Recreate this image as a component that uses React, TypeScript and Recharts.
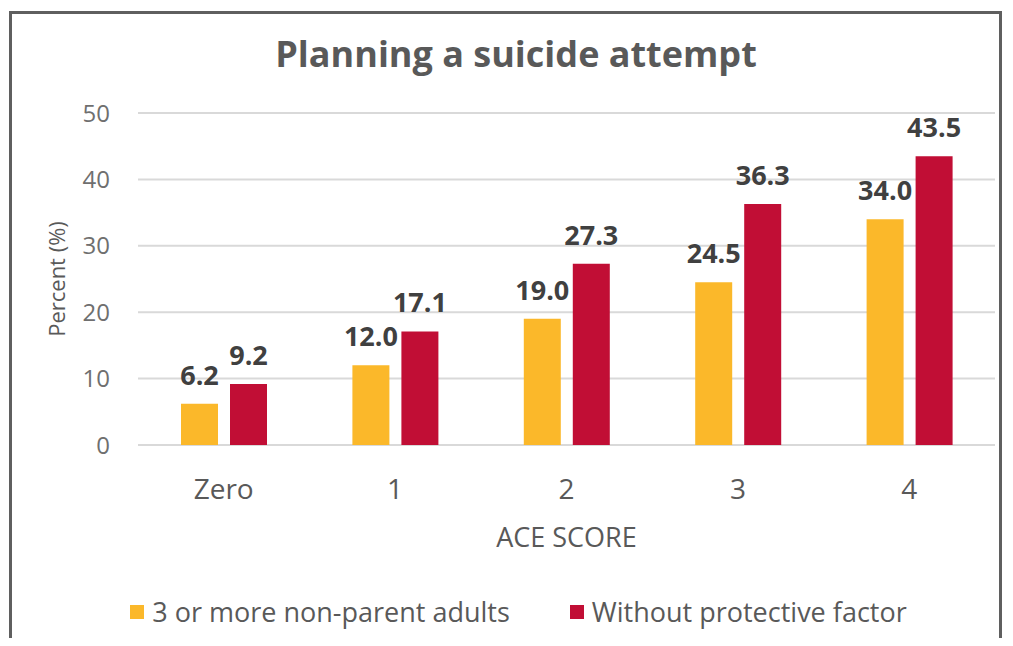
import { BarChart, Bar, XAxis, YAxis, CartesianGrid, LabelList } from 'recharts';

// Data
const categories = ['Zero', '1', '2', '3', '4'];
const nonParentAdults = [6.2, 12.0, 19.0, 24.5, 34.0];
const withoutProtective = [9.2, 17.1, 27.3, 36.3, 43.5];
const yTicks = [0, 10, 20, 30, 40, 50];

const seriesNames = ['3 or more non-parent adults', 'Without protective factor'];
const colors = ['#FBB82A', '#C10E35'];

const data = categories.map((c, i) => ({
  category: c,
  a: nonParentAdults[i],
  b: withoutProtective[i],
}));

const font = '"Open Sans", Lato, sans-serif';

export default function App() {
  return (
    <div
      style={{
        position: 'relative',
        width: 1013,
        height: 646,
        margin: -8,
        background: '#fff',
        fontFamily: font,
        overflow: 'hidden',
      }}
    >
      {/* frame */}
      <div
        style={{
          position: 'absolute',
          left: 9,
          top: 11,
          width: 993,
          height: 700,
          border: '3px solid #5f5f5f',
          boxSizing: 'border-box',
        }}
      />
      {/* title */}
      <div
        style={{
          position: 'absolute',
          left: 0,
          width: 1032,
          top: 29,
          textAlign: 'center',
          fontSize: 36,
          fontWeight: 700,
          color: '#595959',
          lineHeight: 'normal',
        }}
      >
        Planning a suicide attempt
      </div>

      <div style={{ position: 'absolute', left: 0, top: 0 }}>
        <BarChart
          width={1013}
          height={646}
          data={data}
          margin={{ top: 113, right: 18, bottom: 141, left: 78 }}
          barSize={37}
          barGap={12}
        >
          <CartesianGrid vertical={false} stroke="#d9d9d9" strokeWidth={2} />
          <XAxis
            dataKey="category"
            height={60}
            axisLine={false}
            tickLine={false}
            tickSize={0}
            tickMargin={34}
            tick={{ fill: '#595959', fontSize: 28, fontFamily: font }}
            label={{
              value: 'ACE SCORE',
              position: 'insideBottom',
              offset: -42,
              fill: '#595959',
              fontSize: 27,
              fontFamily: font,
            }}
          />
          <YAxis
            width={60}
            domain={[0, 50]}
            ticks={yTicks}
            axisLine={false}
            tickLine={false}
            tickSize={0}
            tickMargin={28}
            tick={{ fill: '#6f6f6f', fontSize: 24, fontFamily: font }}
            label={{
              value: 'Percent (%)',
              angle: -90,
              position: 'center',
              dx: -51,
              fill: '#595959',
              fontSize: 22,
              fontFamily: font,
            }}
          />
          <Bar dataKey="a" fill={colors[0]} isAnimationActive={false}>
            <LabelList
              dataKey="a"
              position="top"
              offset={19}
              formatter={(v: number) => v.toFixed(1)}
              style={{ fill: '#404040', fontSize: 27, fontWeight: 700, fontFamily: font }}
            />
          </Bar>
          <Bar dataKey="b" fill={colors[1]} isAnimationActive={false}>
            <LabelList
              dataKey="b"
              position="top"
              offset={19}
              formatter={(v: number) => v.toFixed(1)}
              style={{ fill: '#404040', fontSize: 27, fontWeight: 700, fontFamily: font }}
            />
          </Bar>
        </BarChart>
      </div>

      {/* legend */}
      <div
        style={{
          position: 'absolute',
          top: 593,
          left: 0,
          width: 1037,
          display: 'flex',
          justifyContent: 'center',
          gap: 60,
          fontSize: 27,
          color: '#595959',
        }}
      >
        {seriesNames.map((name, i) => (
          <div key={name} style={{ display: 'flex', alignItems: 'center' }}>
            <span
              style={{
                display: 'inline-block',
                width: 14,
                height: 14,
                background: colors[i],
                marginRight: 8,
              }}
            />
            {name}
          </div>
        ))}
      </div>
    </div>
  );
}
